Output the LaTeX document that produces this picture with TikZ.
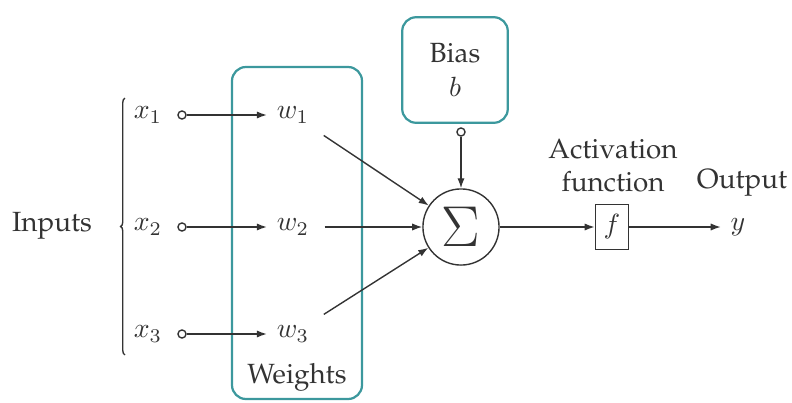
\documentclass[tikz,border=0pt]{standalone}
\usepackage{amsmath}
\usepackage[T1]{fontenc}
\renewcommand{\rmdefault}{ppl}
\usepackage{tikz}
\usepackage{xcolor}
\usetikzlibrary{arrows.meta,decorations.pathreplacing}
\definecolor{ink}{HTML}{333333}
\definecolor{tealline}{HTML}{3C989D}

\begin{document}
\begin{tikzpicture}[
    x=0.36pt, y=-0.36pt,
    line width=0.5pt,
    >={Latex[length=3.6pt,width=2.6pt]},
    every node/.style={font=\normalsize, text=ink},
    port/.style={circle, draw=ink, fill=white, inner sep=0pt, minimum size=2.9pt},
    tealbox/.style={draw=tealline, line width=0.8pt, rounded corners=5pt},
    wire/.style={draw=ink, ->}
]
\useasboundingbox (0,0) rectangle (792,403);
%====================================================
% INPUTS AND WEIGHTS
%====================================================
\draw[tealbox] (232,67) rectangle (362,399);
\node (inputs) at (52,226) {Inputs};
\draw[ink, decorate, decoration={brace, amplitude=1.6pt}] (125,355) -- (125,98);
\foreach \i/\y in {1/115,2/227,3/334}
{
    \node (x\i) at (148,\y) {$x_\i$};
    \node[port] (p\i) at (182,\y) {};
    \node (w\i) at (293,\y) {$w_\i$};
    \draw[wire] (p\i) -- (w\i);
}
\node (weights) at (297,377) {Weights};

%====================================================
% SUMMATION AND BIAS
%====================================================
\node[circle, draw=ink, minimum size=27.4pt, inner sep=0pt] (sum) at (461,227)
    {\fontsize{22}{22}\selectfont$\Sigma$};
\node[tealbox, minimum width=38pt, minimum height=38pt, align=center] (bias) at (455,70) {Bias\\$b$};
\node[port] (bport) at (461,132) {};
\draw[wire] (bport) -- (sum);
\foreach \i in {1,2,3}
{
    \draw[wire, shorten <=2pt] (w\i) -- (sum);
}

%====================================================
% ACTIVATION AND OUTPUT
%====================================================
\node[draw=ink, inner sep=2pt, minimum width=12pt, minimum height=16pt] (act) at (612,227) {$f$};
\draw[wire] (sum) -- (act);
\node[align=center] (actlabel) at (613,166) {Activation\\function};
\node (y) at (738,227) {$y$};
\draw[wire] (act) -- (y);
\node (output) at (742,183) {Output};
\end{tikzpicture}
\end{document}
